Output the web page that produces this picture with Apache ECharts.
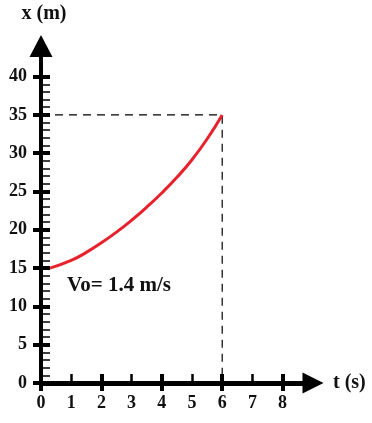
<!DOCTYPE html>
<html>
<head>
<meta charset="utf-8">
<script src="https://cdn.jsdelivr.net/npm/echarts@6/dist/echarts.min.js"></script>
<style>html,body{margin:0;padding:0;background:#fff;}#c{width:372px;height:423px;}</style>
</head>
<body>
<div id="c"></div>
<script>
// Data
var timeValues = [0.3, 1, 1.5, 2, 2.5, 3, 3.5, 4, 4.5, 5, 5.5, 6];
var positionValues = [15, 16.0, 17.05, 18.3, 19.7, 21.25, 22.95, 24.8, 26.85, 29.15, 31.85, 35];
var guideTime = [0, 6, 6];
var guidePosition = [35, 35, 0];
var xAxisName = 'x (m)';
var tAxisName = 't (s)';
var annotation = 'Vo= 1.4 m/s';

var FONT = 'Liberation Serif';
var chart = echarts.init(document.getElementById('c'), null, {renderer: 'canvas'});

function zip(a, b) { return a.map(function (v, i) { return [v, b[i]]; }); }

var labelStyle = {fontFamily: FONT, fontWeight: 'bold', fontSize: 18, color: '#111'};

var option = {
  animation: false,
  backgroundColor: '#fff',
  grid: [
    {left: 41, top: 76.6, right: 89.4, bottom: 40, containLabel: false},
    {left: 41, top: 46, right: 59, bottom: 40, containLabel: false}
  ],
  xAxis: [
    {gridIndex: 0, type: 'value', min: 0, max: 8, interval: 1, position: 'bottom',
     axisLine: {show: false, onZero: false}, splitLine: {show: false},
     axisTick: {show: true, inside: true, length: 9, lineStyle: {color: '#000', width: 2.5}},
     axisLabel: Object.assign({margin: 11}, labelStyle)},
    {gridIndex: 0, type: 'value', min: 0, max: 8, interval: 2, position: 'bottom',
     axisLine: {show: false, onZero: false}, splitLine: {show: false},
     axisTick: {show: true, inside: true, length: 9, lineStyle: {color: '#000', width: 4}},
     axisLabel: {show: false}},
    {gridIndex: 0, type: 'value', min: 0, max: 8, interval: 2, position: 'bottom',
     axisLine: {show: false, onZero: false}, splitLine: {show: false},
     axisTick: {show: true, inside: false, length: 8, lineStyle: {color: '#000', width: 4}},
     axisLabel: {show: false}},
    {gridIndex: 1, type: 'value', min: 0, max: 1, position: 'bottom',
     axisLine: {show: true, onZero: false, symbol: ['none', 'triangle'], symbolSize: [21, 21],
       lineStyle: {color: '#000', width: 5}},
     axisTick: {show: false}, axisLabel: {show: false}, splitLine: {show: false},
     name: tAxisName, nameLocation: 'end', nameGap: 20,
     nameTextStyle: {fontFamily: FONT, fontWeight: 'bold', fontSize: 20, color: '#111'}}
  ],
  yAxis: [
    {gridIndex: 0, type: 'value', min: 0, max: 40, interval: 5, position: 'left',
     axisLine: {show: false, onZero: false}, splitLine: {show: false},
     axisTick: {show: true, inside: true, length: 9, lineStyle: {color: '#000', width: 4}},
     minorTick: {show: true, splitNumber: 5, length: 9, lineStyle: {color: '#000', width: 1.5}},
     axisLabel: Object.assign({margin: 14}, labelStyle)},
    {gridIndex: 0, type: 'value', min: 0, max: 40, interval: 5, position: 'left',
     axisLine: {show: false, onZero: false}, splitLine: {show: false},
     axisTick: {show: true, inside: false, length: 8, lineStyle: {color: '#000', width: 4}},
     axisLabel: {show: false}},
    {gridIndex: 1, type: 'value', min: 0, max: 1, position: 'left',
     axisLine: {show: true, onZero: false, symbol: ['none', 'triangle'], symbolSize: [23, 22],
       lineStyle: {color: '#000', width: 4}},
     axisTick: {show: false}, axisLabel: {show: false}, splitLine: {show: false},
     name: xAxisName, nameLocation: 'end', nameGap: 22,
     nameTextStyle: {fontFamily: FONT, fontWeight: 'bold', fontSize: 20, color: '#111', align: 'center', padding: [0, 0, 0, 6]}}
  ],
  series: [
    {type: 'line', xAxisIndex: 0, yAxisIndex: 0, data: zip(guideTime, guidePosition),
     symbol: 'none', silent: true, z: 1,
     lineStyle: {color: '#000', width: 1.2, type: [8, 6]}},
    {type: 'line', xAxisIndex: 0, yAxisIndex: 0, data: zip(timeValues, positionValues),
     symbol: 'none', smooth: 0.5, z: 3,
     lineStyle: {color: '#e8222c', width: 3}}
  ],
  graphic: [
    {type: 'text', left: 67, top: 275,
     style: {text: annotation, fontFamily: FONT, fontWeight: 'bold', fontSize: 21, fill: '#111'}}
  ]
};
chart.setOption(option);
</script>
</body>
</html>
